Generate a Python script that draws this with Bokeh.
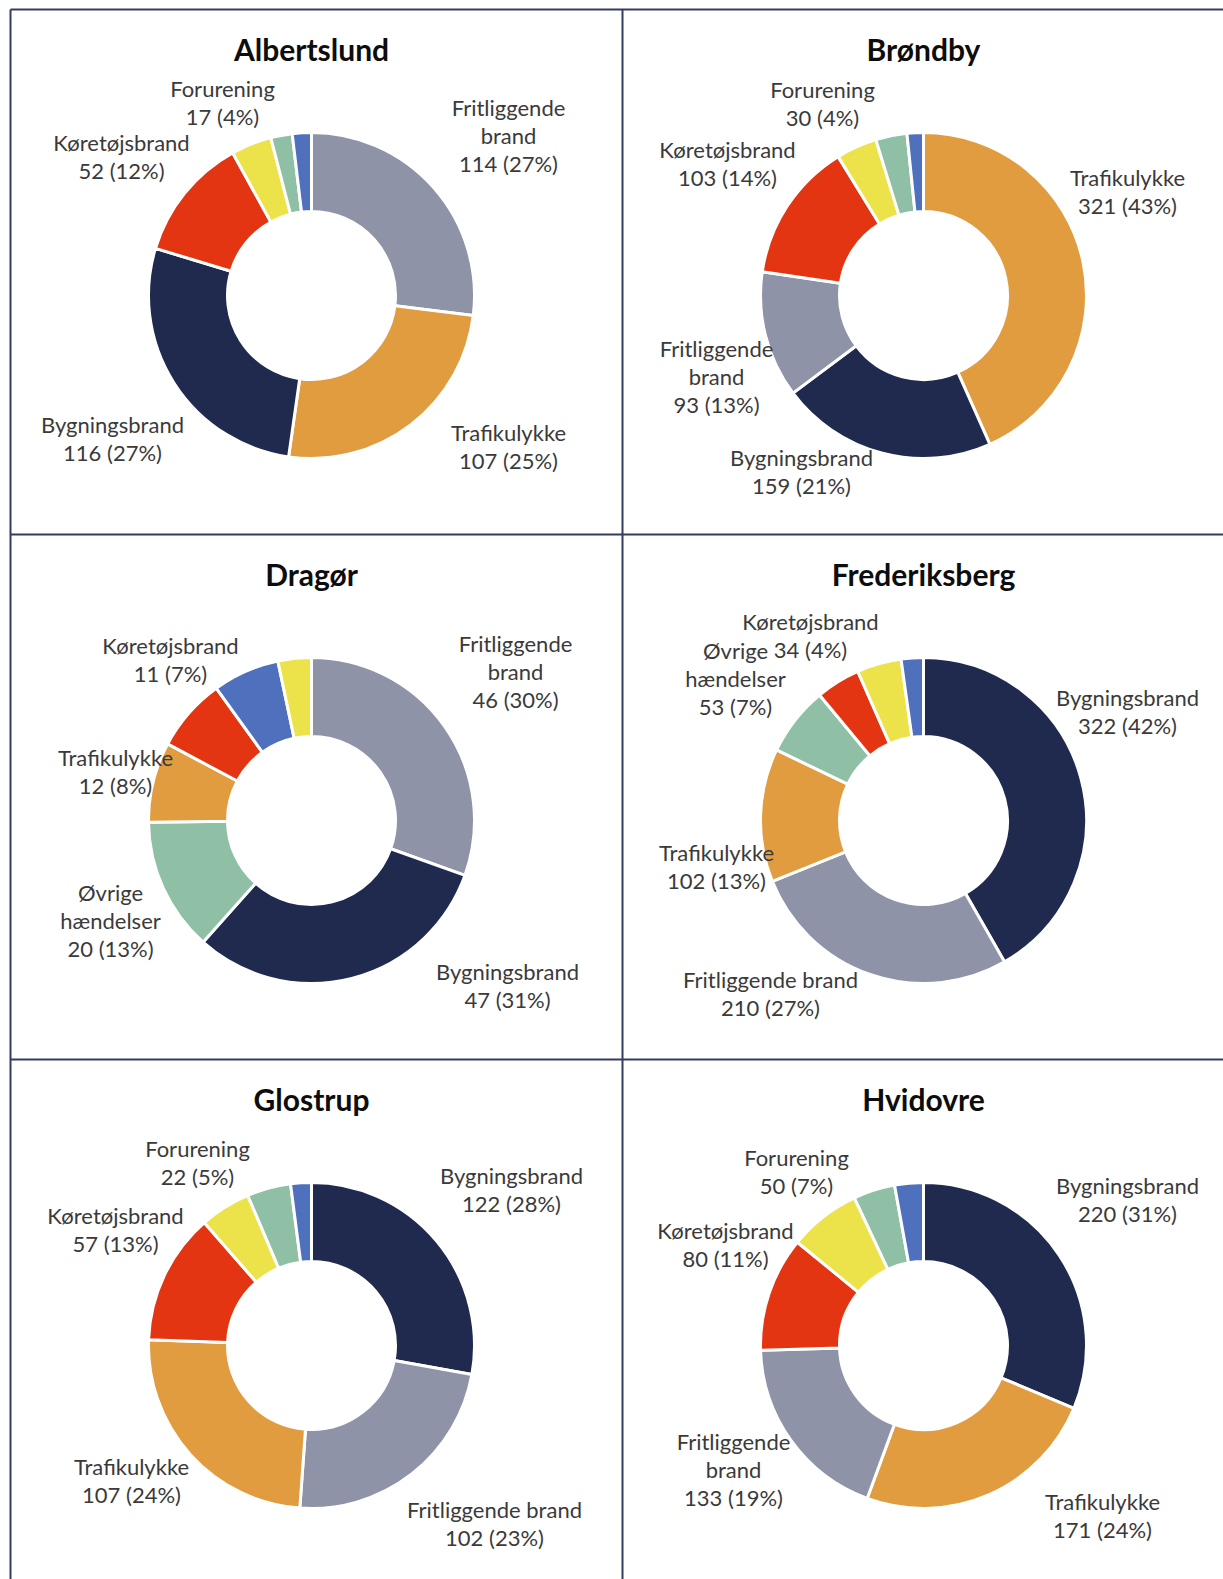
import math
from bokeh.plotting import figure
from bokeh.models import Range1d, ColumnDataSource
from bokeh.core.properties import value
from bokeh.embed import file_html
from bokeh.resources import INLINE

# ---------------- data ----------------
MUNICIPALITIES = ["Albertslund", "Brøndby", "Dragør", "Frederiksberg", "Glostrup", "Hvidovre"]

CATEGORY_COLORS = {
    "Bygningsbrand": "#1f2a4e",
    "Fritliggende brand": "#8e93a8",
    "Trafikulykke": "#e09c3e",
    "Køretøjsbrand": "#e33512",
    "Forurening": "#ece34b",
    "Øvrige hændelser": "#8fc0a6",
    "Andet": "#4f70bd",
}

# slices in drawing order (clockwise from 12 o'clock)
albertslund_cats = ["Fritliggende brand", "Trafikulykke", "Bygningsbrand", "Køretøjsbrand", "Forurening", "Øvrige hændelser", "Andet"]
albertslund_vals = [114, 107, 116, 52, 17, 9, 8]

brondby_cats = ["Trafikulykke", "Bygningsbrand", "Fritliggende brand", "Køretøjsbrand", "Forurening", "Øvrige hændelser", "Andet"]
brondby_vals = [321, 159, 93, 103, 30, 23, 12]

dragor_cats = ["Fritliggende brand", "Bygningsbrand", "Øvrige hændelser", "Trafikulykke", "Køretøjsbrand", "Andet", "Forurening"]
dragor_vals = [46, 47, 20, 12, 11, 10, 5]

frederiksberg_cats = ["Bygningsbrand", "Fritliggende brand", "Trafikulykke", "Øvrige hændelser", "Køretøjsbrand", "Forurening", "Andet"]
frederiksberg_vals = [322, 210, 102, 53, 34, 34, 17]

glostrup_cats = ["Bygningsbrand", "Fritliggende brand", "Trafikulykke", "Køretøjsbrand", "Forurening", "Øvrige hændelser", "Andet"]
glostrup_vals = [122, 102, 107, 57, 22, 19, 9]

hvidovre_cats = ["Bygningsbrand", "Trafikulykke", "Fritliggende brand", "Køretøjsbrand", "Forurening", "Øvrige hændelser", "Andet"]
hvidovre_vals = [220, 171, 133, 80, 50, 29, 20]

DATA = {
    "Albertslund": (albertslund_cats, albertslund_vals),
    "Brøndby": (brondby_cats, brondby_vals),
    "Dragør": (dragor_cats, dragor_vals),
    "Frederiksberg": (frederiksberg_cats, frederiksberg_vals),
    "Glostrup": (glostrup_cats, glostrup_vals),
    "Hvidovre": (hvidovre_cats, hvidovre_vals),
}

# ---------------- layout (page pixel coordinates) ----------------
W, H = 1223, 1579
def Y(py):
    return H - py

COL_X = [311, 923]
ROW_Y = [295, 820, 1345]
TITLE_C = [50, 575, 1100]
R_IN, R_OUT = 84, 163
LINE_H = 28
TXT_OFF = -1.5  # visual line centre -> text anchor

# label placement: (category, centre x, centre y of first line, name lines)
LABELS = {
    "Albertslund": [
        ("Forurening", 222, 89, ["Forurening"]),
        ("Køretøjsbrand", 121, 143, ["Køretøjsbrand"]),
        ("Fritliggende brand", 508, 108, ["Fritliggende", "brand"]),
        ("Trafikulykke", 508, 433, ["Trafikulykke"]),
        ("Bygningsbrand", 112, 425, ["Bygningsbrand"]),
    ],
    "Brøndby": [
        ("Forurening", 822, 90, ["Forurening"]),
        ("Køretøjsbrand", 727, 150, ["Køretøjsbrand"]),
        ("Trafikulykke", 1127, 178, ["Trafikulykke"]),
        ("Fritliggende brand", 716, 349, ["Fritliggende", "brand"]),
        ("Bygningsbrand", 801, 458, ["Bygningsbrand"]),
    ],
    "Dragør": [
        ("Køretøjsbrand", 170, 646, ["Køretøjsbrand"]),
        ("Fritliggende brand", 515, 644, ["Fritliggende", "brand"]),
        ("Trafikulykke", 115, 758, ["Trafikulykke"]),
        ("Øvrige hændelser", 110, 893, ["Øvrige", "hændelser"]),
        ("Bygningsbrand", 507, 972, ["Bygningsbrand"]),
    ],
    "Frederiksberg": [
        ("Køretøjsbrand", 810, 622, ["Køretøjsbrand"]),
        ("Øvrige hændelser", 735, 651, ["Øvrige", "hændelser"]),
        ("Bygningsbrand", 1127, 698, ["Bygningsbrand"]),
        ("Trafikulykke", 716, 853, ["Trafikulykke"]),
        ("Fritliggende brand", 770, 980, ["Fritliggende brand"]),
    ],
    "Glostrup": [
        ("Forurening", 197, 1149, ["Forurening"]),
        ("Køretøjsbrand", 115, 1216, ["Køretøjsbrand"]),
        ("Bygningsbrand", 511, 1176, ["Bygningsbrand"]),
        ("Trafikulykke", 131, 1467, ["Trafikulykke"]),
        ("Fritliggende brand", 494, 1510, ["Fritliggende brand"]),
    ],
    "Hvidovre": [
        ("Forurening", 796, 1158, ["Forurening"]),
        ("Køretøjsbrand", 725, 1231, ["Køretøjsbrand"]),
        ("Bygningsbrand", 1127, 1186, ["Bygningsbrand"]),
        ("Fritliggende brand", 733, 1442, ["Fritliggende", "brand"]),
        ("Trafikulykke", 1102, 1502, ["Trafikulykke"]),
    ],
}

FONT = "Lato"
LABEL_COLOR = "#3a3a3a"
TITLE_COLOR = "#0d0d0d"
FRAME_COLOR = "#343c60"

p = figure(width=W, height=H, output_backend="svg", toolbar_location=None,
           x_range=Range1d(0, W), y_range=Range1d(0, H),
           min_border=0, min_border_left=0, min_border_right=0,
           min_border_top=0, min_border_bottom=0)
p.axis.visible = False
p.grid.visible = False
p.outline_line_color = None
p.background_fill_color = "white"
p.border_fill_color = "white"

# frame lines
for yy in [9, 534, 1059]:
    p.segment(x0=[10], y0=[Y(yy)], x1=[W], y1=[Y(yy)], line_color=FRAME_COLOR, line_width=2)
for xx in [10, 622]:
    p.segment(x0=[xx], y0=[Y(9)], x1=[xx], y1=[Y(H)], line_color=FRAME_COLOR, line_width=2)

wx, wy, ws, we, wc = [], [], [], [], []
tx, ty, tt = [], [], []
lx, ly, lt = [], [], []

for i, name in enumerate(MUNICIPALITIES):
    cx = COL_X[i % 2]
    cy = ROW_Y[i // 2]
    cats, vals = DATA[name]
    total = float(sum(vals))
    cum = 0.0
    for c, v in zip(cats, vals):
        a0 = math.pi / 2 - 2 * math.pi * cum / total
        cum += v
        a1 = math.pi / 2 - 2 * math.pi * cum / total
        wx.append(cx); wy.append(Y(cy)); ws.append(a0); we.append(a1)
        wc.append(CATEGORY_COLORS[c])
    tx.append(cx); ty.append(Y(TITLE_C[i // 2] + TXT_OFF)); tt.append(name)
    lookup = dict(zip(cats, vals))
    for c, lxp, lyp, lines in LABELS[name]:
        v = lookup[c]
        pct = int(100.0 * v / total + 0.5)
        all_lines = lines + [f"{v} ({pct}%)"]
        for k, s in enumerate(all_lines):
            lx.append(lxp); ly.append(Y(lyp + TXT_OFF + k * LINE_H)); lt.append(s)

wsrc = ColumnDataSource(dict(x=wx, y=wy, s=ws, e=we, c=wc))
p.annular_wedge(x="x", y="y", inner_radius=R_IN, outer_radius=R_OUT,
                start_angle="s", end_angle="e", direction="clock",
                fill_color="c", line_color="white", line_width=3, source=wsrc)

p.text(x=tx, y=ty, text=tt, text_align="center", text_baseline="alphabetic",
       text_font=value(FONT), text_font_style="bold", text_font_size="30px",
       text_color=TITLE_COLOR)
p.text(x=lx, y=ly, text=lt, text_align="center", text_baseline="alphabetic",
       text_font=value(FONT), text_font_size="22px", text_color=LABEL_COLOR)

open("out.html", "w").write(file_html(p, INLINE))
